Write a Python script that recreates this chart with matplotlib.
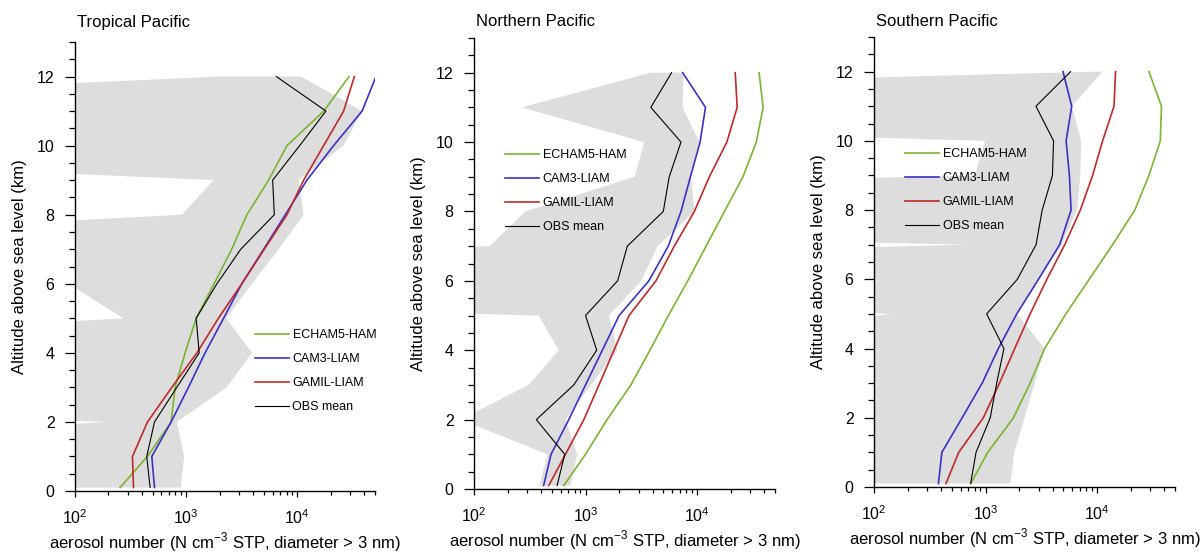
import matplotlib
matplotlib.use("Agg")
import matplotlib.pyplot as plt
from matplotlib.ticker import MultipleLocator, LogLocator, NullFormatter
from matplotlib.lines import Line2D

plt.rcParams['font.family'] = ['Liberation Sans', 'DejaVu Sans']

# ---------------- data ----------------
alt_km = [0.1, 1, 2, 3, 4, 5, 6, 7, 8, 9, 10, 11, 12]
regions = ["Tropical Pacific", "Northern Pacific", "Southern Pacific"]
series_names = ["ECHAM5-HAM", "CAM3-LIAM", "GAMIL-LIAM", "OBS mean"]

# Tropical Pacific
echam_trop = [254, 449, 733, 795, 979, 1230, 1785, 2570, 3520, 5520, 8070, 17300, 29200]
cam3_trop = [519, 491, 733, 1048, 1480, 2170, 3165, 4980, 7800, 12200, 21200, 38300, 51000]
gamil_trop = [336, 329, 449, 743, 1250, 1950, 3165, 5050, 8070, 11400, 17260, 26100, 32600]
obs_trop = [474, 442, 519, 824, 1310, 1230, 1890, 3100, 6210, 6000, 10500, 18100, 6470]
obs_min_trop = [1e-3, 3.4e-3, 193, 6e-8, 1e-3, 272, 88, 1e-3, 915, 1760, 2.1e-4, 2.9e-4, 2000]
obs_max_trop = [895, 960, 824, 2320, 3910, 2300, 3900, 6800, 11400, 10300, 26000, 38300, 10800]

# Northern Pacific
echam_north = [638, 1000, 1560, 2550, 3780, 5530, 8250, 12050, 17600, 25800, 34000, 39100, 36000]
cam3_north = [421, 491, 708, 1000, 1415, 2000, 3700, 5520, 7180, 8720, 10650, 11900, 7430]
gamil_north = [468, 661, 966, 1320, 1800, 2455, 4280, 6250, 9460, 12900, 18500, 22900, 22000]
obs_north = [556, 651, 362, 785, 1260, 1000, 1940, 2370, 4980, 5630, 7180, 3850, 5910]
obs_min_north = [385, 457, 76, 309, 575, 380, 1e-9, 139, 288, 2760, 3360, 269, 3850]
obs_max_north = [733, 841, 661, 1120, 1930, 1620, 3160, 4430, 9460, 8830, 10500, 7410, 7580]

# Southern Pacific
echam_south = [738, 1047, 1780, 2510, 3390, 5250, 8500, 13800, 21800, 29200, 36900, 37800, 29200]
cam3_south = [378, 406, 617, 933, 1303, 1905, 2985, 4620, 5850, 5650, 5280, 5930, 4950]
gamil_south = [442, 575, 955, 1334, 1828, 2512, 3548, 5130, 7080, 9120, 11220, 14190, 14660]
obs_south = [735, 822, 1102, 1259, 1462, 1023, 1928, 2838, 3221, 3981, 4074, 2831, 5794]
obs_min_south = [1e-3, 1e-3, 1e-3, 1e-3, 0.3, 146, 1e-9, 675, 1e-11, 800, 990, 1e-8, 10000]
obs_max_south = [1670, 1815, 2240, 2760, 3390, 1905, 3000, 4800, 6610, 7080, 7200, 5960, 11200]

model_data = [
    (echam_trop, cam3_trop, gamil_trop, obs_trop, obs_min_trop, obs_max_trop),
    (echam_north, cam3_north, gamil_north, obs_north, obs_min_north, obs_max_north),
    (echam_south, cam3_south, gamil_south, obs_south, obs_min_south, obs_max_south),
]

colors = ["#7ab531", "#3a32c8", "#bf2a2a", "#000000"]
widths = [1.2, 1.2, 1.2, 0.8]
band_color = "#dddddd"

# ---------------- layout ----------------
W, H = 1200, 552
# (left, right, top, bottom) in pixels
boxes = [(75, 375, 42, 491), (474, 775, 38, 489), (874, 1175, 37, 487)]
legend_anchor = [(0.60, 0.361), (0.103, 0.7535), (0.103, 0.753)]

fig = plt.figure(figsize=(W / 100, H / 100), dpi=100)

for i, (l, r, t, b) in enumerate(boxes):
    ax = fig.add_axes([l / W, (H - b) / H, (r - l) / W, (b - t) / H])
    echam, cam3, gamil, obs, omin, omax = model_data[i]
    ax.fill_betweenx(alt_km, omin, omax, color=band_color, lw=0, zorder=1)
    for vals, c, lw, name in zip([echam, cam3, gamil, obs], colors, widths, series_names):
        ax.plot(vals, alt_km, color=c, lw=lw, label=name, zorder=3,
                solid_joinstyle='miter')
    ax.set_xscale('log')
    ax.set_xlim(100, 5e4)
    ax.set_ylim(0, 13)
    ax.yaxis.set_major_locator(MultipleLocator(2))
    ax.yaxis.set_minor_locator(MultipleLocator(0.5))
    ax.xaxis.set_major_locator(LogLocator(base=10, numticks=10))
    ax.xaxis.set_minor_locator(LogLocator(base=10, subs=range(2, 10), numticks=20))
    ax.xaxis.set_minor_formatter(NullFormatter())
    for s in ['top', 'right']:
        ax.spines[s].set_visible(False)
    for s in ['left', 'bottom']:
        ax.spines[s].set_linewidth(1.0)
    ax.tick_params(axis='y', which='major', direction='out', length=7.2, width=0.9,
                   pad=7.5, labelsize=11.5)
    ax.tick_params(axis='y', which='minor', direction='out', length=4, width=0.9)
    ax.tick_params(axis='x', which='major', direction='out', length=4.5, width=0.9,
                   pad=8, labelsize=11.5)
    ax.tick_params(axis='x', which='minor', direction='out', length=3, width=0.9)
    ax.set_ylabel("Altitude above sea level (km)", fontsize=12, va='center')
    ax.yaxis.set_label_coords(-0.185, 0.5)
    ax.set_xlabel(r"aerosol number (N cm$^{\mathdefault{-3}}$ STP, diameter > 3 nm)",
                  fontsize=12, va='center')
    ax.xaxis.set_label_coords(0.5, -0.114)
    fig.text((l + 2) / W, 1 - 22 / H, regions[i], fontsize=12, ha='left', va='center')
    handles = [Line2D([], [], color=c, lw=lw) for c, lw in zip(colors, widths)]
    ax.legend(handles, series_names, loc='upper left', bbox_to_anchor=legend_anchor[i],
              frameon=False, fontsize=9, handlelength=2.7, handletextpad=0.3,
              labelspacing=0.96, borderpad=0, borderaxespad=0)

fig.savefig("out.png", dpi=100)
